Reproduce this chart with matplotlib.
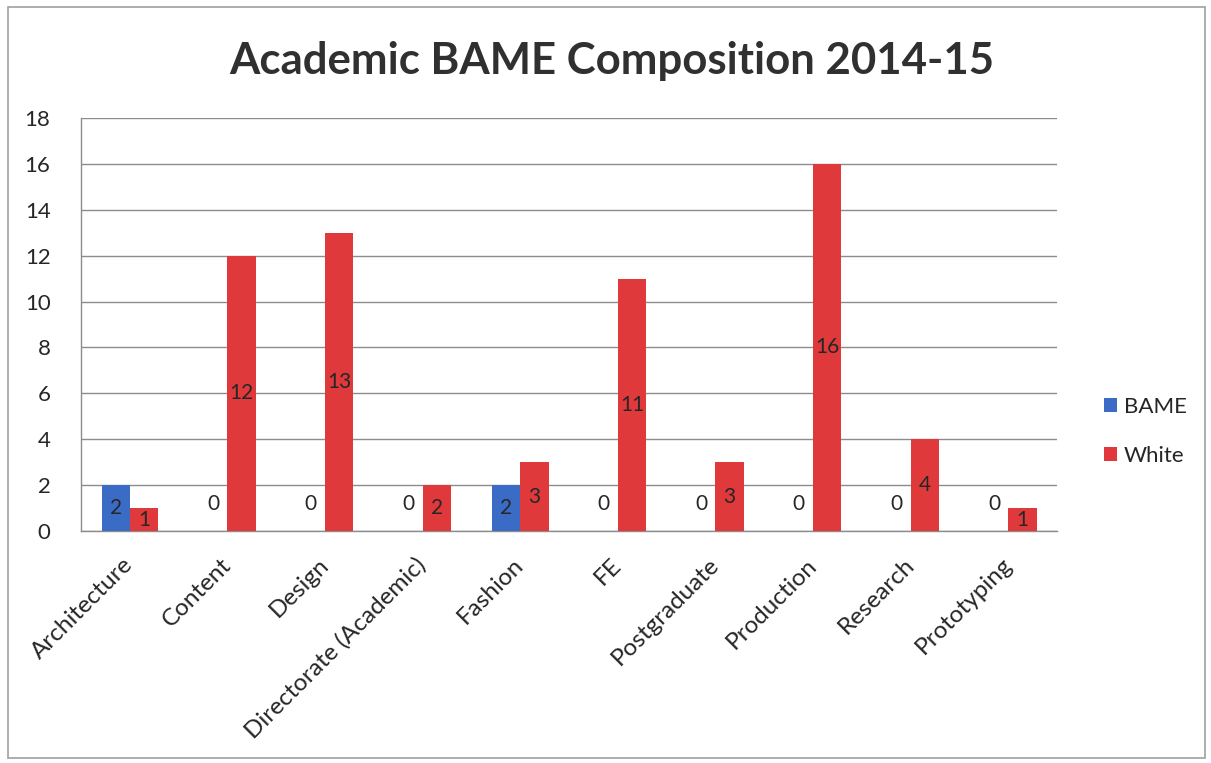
import matplotlib.pyplot as plt
import numpy as np
from matplotlib.patches import Rectangle

departments = ['Architecture', 'Content', 'Design', 'Directorate (Academic)', 'Fashion',
               'FE', 'Postgraduate', 'Production', 'Research', 'Prototyping']
bame = [2, 0, 0, 0, 2, 0, 0, 0, 0, 0]
white = [1, 12, 13, 2, 3, 11, 3, 16, 4, 1]

plt.rcParams['font.family'] = ['Lato', 'DejaVu Sans']

blue = '#3a6cc6'
red = '#e0393b'
text_col = '#262626'

fig = plt.figure(figsize=(12.11, 7.63), dpi=100)
ax = fig.add_axes([0.0669, 0.304, 0.806, 0.5413])

# outer chart frame
fig.patches.append(Rectangle((0.007, 0.006), 0.988, 0.985, transform=fig.transFigure,
                             fill=False, edgecolor='#a0a0a0', linewidth=1.2))

x = np.arange(len(departments))
w = 0.29
b1 = ax.bar(x - w / 2, bame, w, color=blue, label='BAME', zorder=3)
b2 = ax.bar(x + w / 2, white, w, color=red, label='White', zorder=3)

# value labels in the middle of each bar (zeros sit just above the axis)
for bars, vals in ((b1, bame), (b2, white)):
    for bar, v in zip(bars, vals):
        cx = bar.get_x() + bar.get_width() / 2
        cy = v / 2 if v > 0 else 1.2
        ax.text(cx, cy, str(v), ha='center', va='center', fontsize=15,
                color=text_col, zorder=4)

ax.set_xlim(-0.5, len(departments) - 0.5)
ax.set_ylim(0, 18)
ax.set_yticks(range(0, 19, 2))
ax.yaxis.grid(True, color='#8c8c8c', linewidth=1.0, zorder=0)
ax.set_axisbelow(True)
ax.tick_params(axis='y', length=0, labelsize=16, labelcolor=text_col, pad=22)
ax.tick_params(axis='x', length=0, labelsize=17.5, labelcolor=text_col, pad=22)
ax.set_xticks(x)
ax.set_xticklabels(departments, rotation=45, ha='right', va='center',
                   rotation_mode='anchor')

for side in ('top', 'right'):
    ax.spines[side].set_visible(False)
for side in ('left', 'bottom'):
    ax.spines[side].set_color('#8c8c8c')
    ax.spines[side].set_linewidth(1.0)

fig.text(0.505, 0.92, 'Academic BAME Composition 2014-15', ha='center', va='center',
         fontsize=31.5, fontweight='bold', color='#303030')

fig.legend(handles=[b1, b2], loc='center left', bbox_to_anchor=(0.895, 0.435),
           frameon=False, fontsize=16, handlelength=0.6, handleheight=0.6,
           handletextpad=0.3, labelspacing=1.3, labelcolor=text_col)

fig.savefig('out.png', dpi=100)
